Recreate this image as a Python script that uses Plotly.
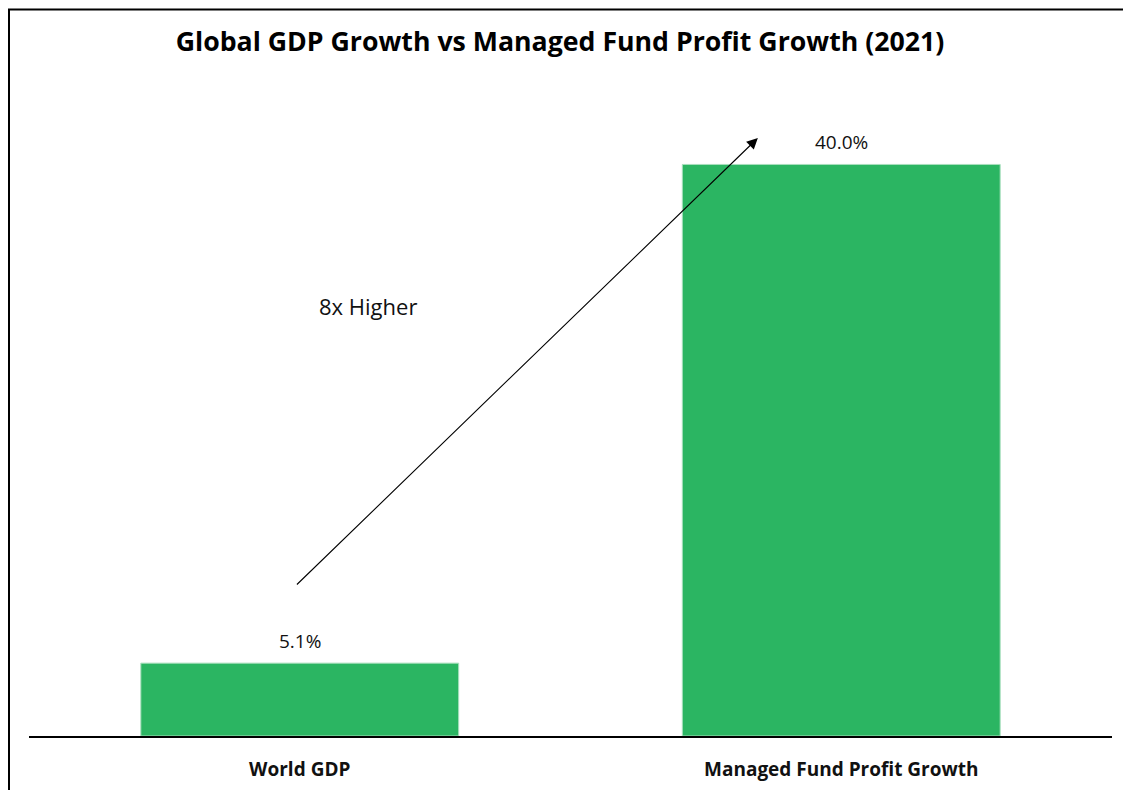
import plotly.graph_objects as go

categories = ["World GDP", "Managed Fund Profit Growth"]
values = [5.1, 40.0]
value_labels = ["5.1%", "40.0%"]
title_text = "Global GDP Growth vs Managed Fund Profit Growth (2021)"
note_text = "8x Higher"

W, H = 1131, 790
ML, MR, MT, MB = 21, 27, 85, 62
PW = W - ML - MR
PH = H - MT - MB

fig = go.Figure()
fig.add_trace(go.Bar(
    x=[0, 1], y=values,
    marker=dict(color="#2BB562", line=dict(color="#A8DFBD", width=1)),
    width=0.587,
    hoverinfo="skip",
))

annotations = []
for i, (v, lab) in enumerate(zip(values, value_labels)):
    annotations.append(dict(x=i, y=v, xref="x", yref="y", text=lab, showarrow=False,
                            yanchor="middle", yshift=22,
                            font=dict(family="Open Sans", size=19, color="#111")))

# arrow
annotations.append(dict(x=0.846, y=41.85, ax=-0.008, ay=10.5, xref="x", yref="y",
                        axref="x", ayref="y", text="", showarrow=True,
                        arrowhead=2, arrowsize=2.0, arrowwidth=1.1, arrowcolor="black"))
annotations.append(dict(x=0.126, y=30.1, xref="x", yref="y", text=note_text, showarrow=False,
                        font=dict(family="Open Sans", size=22, color="#111")))

fig.update_layout(
    width=W, height=H,
    margin=dict(l=ML, r=MR, t=MT, b=MB),
    paper_bgcolor="white", plot_bgcolor="white",
    showlegend=False,
    title=dict(text="<b>" + title_text + "</b>", x=552 / W, xanchor="center",
               y=(H - 34) / H, yanchor="middle", yref="container",
               font=dict(family="Open Sans", size=26.7, color="#000")),
    annotations=annotations,
    xaxis=dict(range=[-0.5, 1.5], tickmode="array", tickvals=[0, 1],
               ticktext=["<b>" + c + "</b>" for c in categories],
               showline=True, linecolor="black", linewidth=1.5,
               showgrid=False, zeroline=False, ticks="",
               ticklabelstandoff=15,
               tickfont=dict(family="Open Sans", size=19, color="#111")),
    yaxis=dict(range=[0, 45], visible=False, showgrid=False, zeroline=False),
    shapes=[dict(type="rect", xref="paper", yref="paper",
                 x0=(1 - ML) / PW, x1=1.05, y0=-0.2, y1=(H - MB - 1.5) / PH,
                 line=dict(color="black", width=2), layer="above")],
)

fig.write_html("out.html")
